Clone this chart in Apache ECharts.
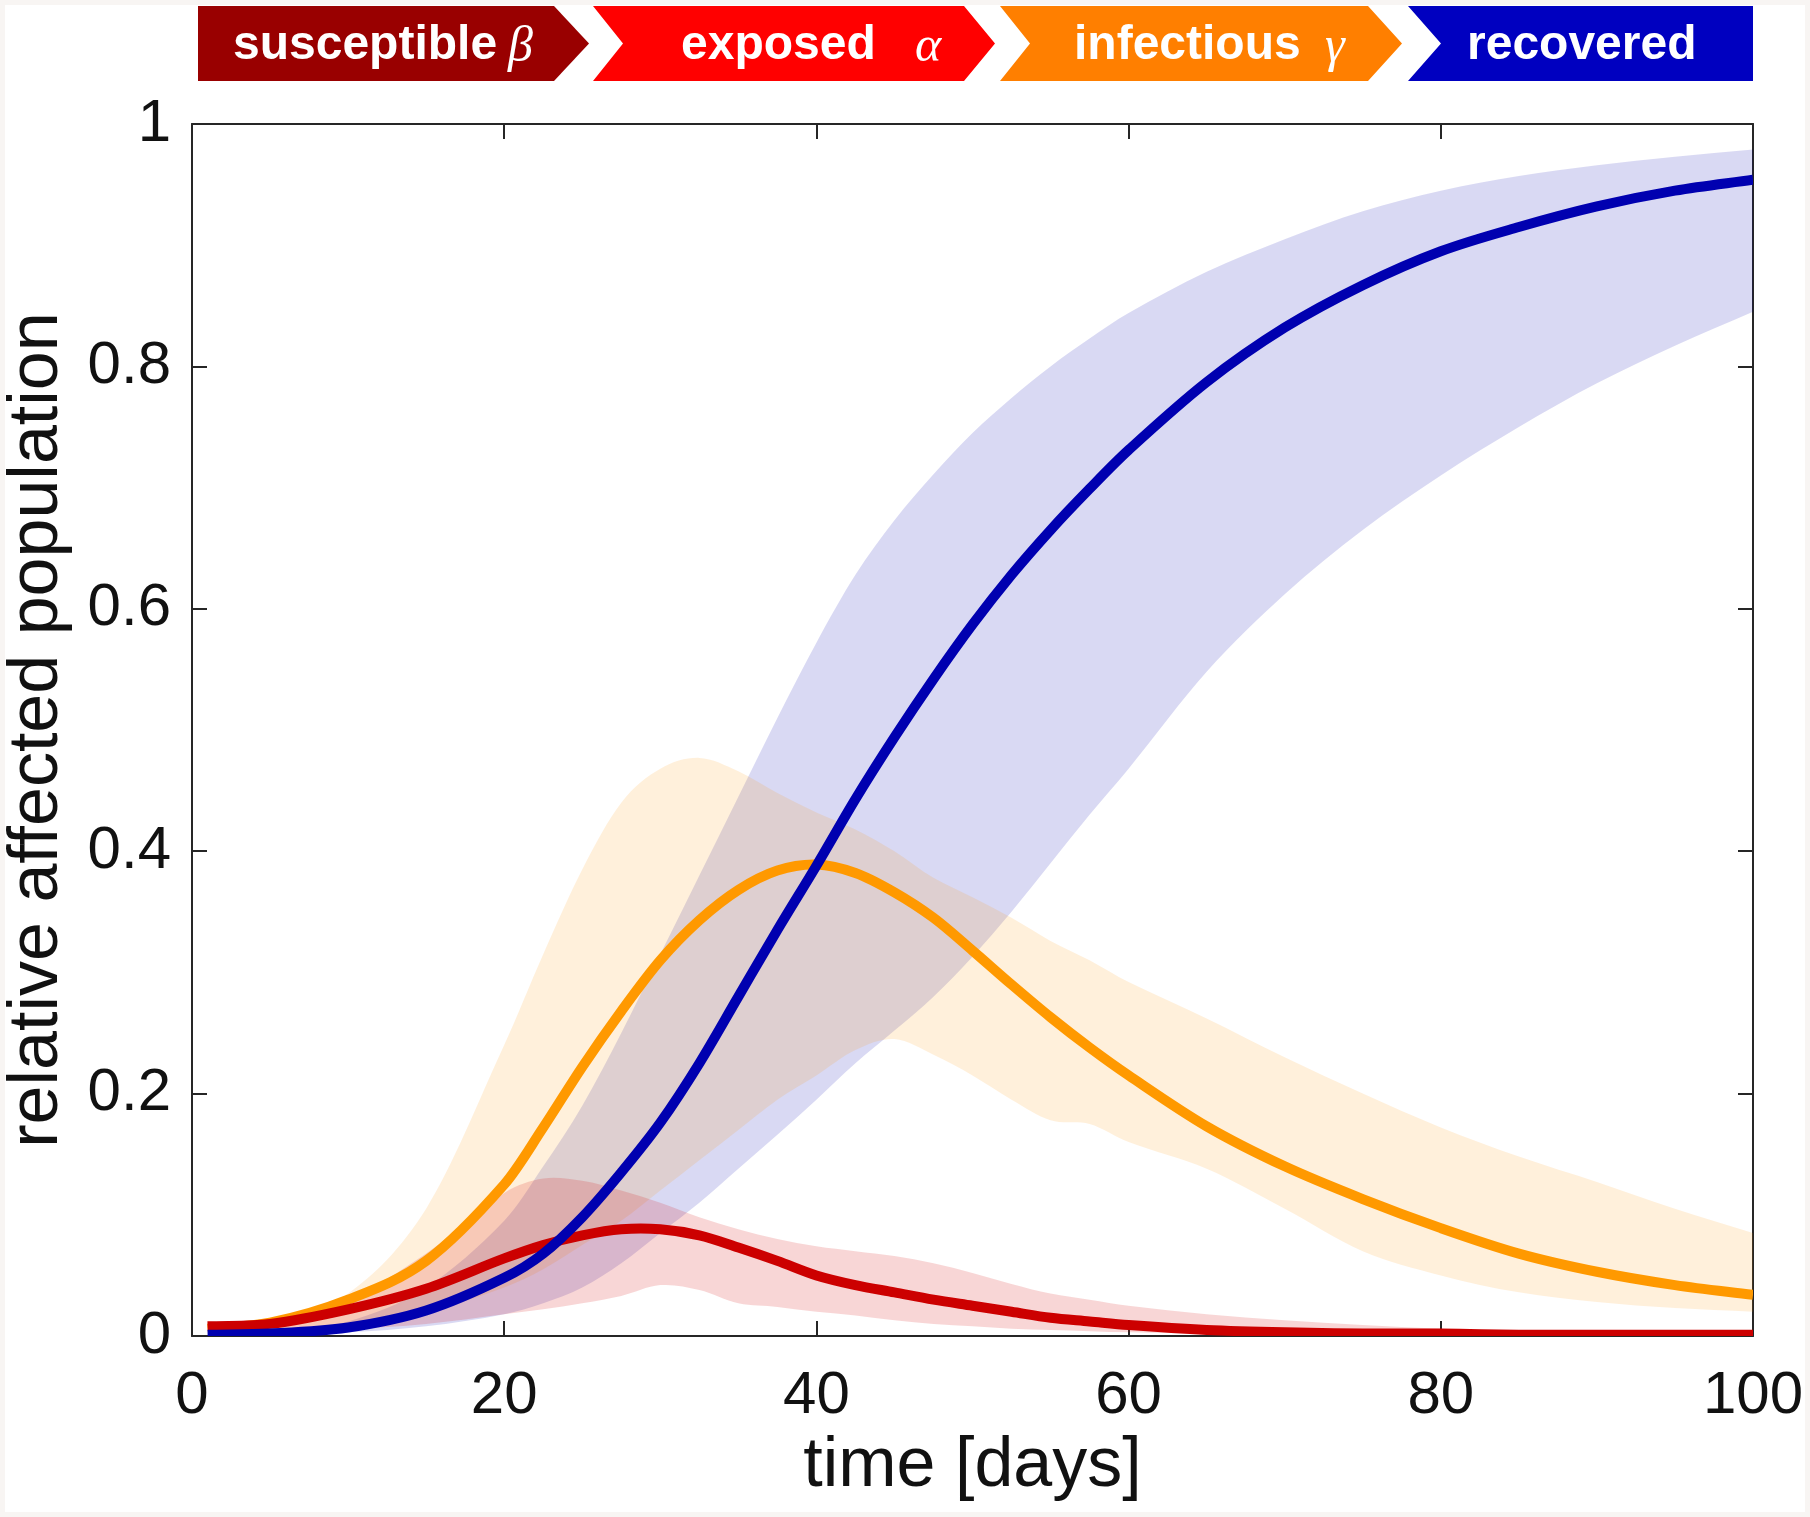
<!DOCTYPE html>
<html>
<head>
<meta charset="utf-8">
<script src="https://cdn.jsdelivr.net/npm/echarts@6/dist/echarts.min.js"></script>
<style>
html,body{margin:0;padding:0;background:#ffffff;}
#chart{width:1810px;height:1517px;}
</style>
</head>
<body>
<div id="chart"></div>
<script>
// ---- data ----
const days = [1, 5, 10, 15, 20, 22.5, 25, 27.5, 30, 32.5, 35, 37.5, 40, 42.5, 45, 47.5, 50, 52.5, 55, 57.5, 60, 65, 70, 75, 80, 85, 90, 95, 100];

const recoveredMean  = [0.001, 0.002, 0.007, 0.021, 0.048, 0.068, 0.098, 0.135, 0.176, 0.225, 0.28, 0.335, 0.388, 0.443, 0.494, 0.542, 0.587, 0.628, 0.665, 0.699, 0.731, 0.787, 0.832, 0.867, 0.895, 0.915, 0.932, 0.945, 0.954];
const recoveredUpper = [0.001, 0.003, 0.012, 0.04, 0.095, 0.14, 0.19, 0.25, 0.315, 0.38, 0.445, 0.51, 0.572, 0.628, 0.673, 0.711, 0.745, 0.774, 0.8, 0.823, 0.844, 0.878, 0.905, 0.928, 0.945, 0.957, 0.966, 0.973, 0.979];
const recoveredLower = [0.0, 0.001, 0.003, 0.008, 0.018, 0.027, 0.04, 0.06, 0.085, 0.11, 0.138, 0.166, 0.195, 0.225, 0.252, 0.28, 0.313, 0.35, 0.39, 0.43, 0.468, 0.548, 0.612, 0.665, 0.71, 0.75, 0.786, 0.817, 0.845];

const infectiousMean  = [0.006, 0.011, 0.03, 0.062, 0.125, 0.172, 0.222, 0.268, 0.31, 0.343, 0.368, 0.384, 0.389, 0.382, 0.366, 0.345, 0.318, 0.29, 0.263, 0.238, 0.215, 0.173, 0.14, 0.113, 0.089, 0.068, 0.053, 0.042, 0.034];
const infectiousUpper = [0.006, 0.012, 0.035, 0.105, 0.24, 0.315, 0.385, 0.44, 0.468, 0.477, 0.466, 0.448, 0.432, 0.418, 0.4, 0.378, 0.362, 0.345, 0.326, 0.31, 0.292, 0.262, 0.23, 0.2, 0.172, 0.148, 0.127, 0.105, 0.085];
const infectiousLower = [0.004, 0.006, 0.01, 0.02, 0.04, 0.055, 0.075, 0.095, 0.12, 0.145, 0.17, 0.195, 0.215, 0.236, 0.245, 0.232, 0.215, 0.195, 0.178, 0.175, 0.16, 0.138, 0.105, 0.07, 0.05, 0.036, 0.028, 0.023, 0.02];

const exposedMean  = [0.008, 0.01, 0.022, 0.039, 0.064, 0.075, 0.083, 0.088, 0.088, 0.083, 0.073, 0.062, 0.05, 0.042, 0.036, 0.03, 0.025, 0.02, 0.015, 0.012, 0.009, 0.005, 0.003, 0.002, 0.002, 0.001, 0.001, 0.001, 0.001];
const exposedUpper = [0.01, 0.012, 0.03, 0.068, 0.118, 0.13, 0.128, 0.12, 0.11, 0.098, 0.088, 0.08, 0.074, 0.07, 0.066, 0.06, 0.052, 0.043, 0.035, 0.03, 0.025, 0.018, 0.013, 0.009, 0.006, 0.004, 0.003, 0.002, 0.002];
const exposedLower = [0.006, 0.005, 0.006, 0.01, 0.018, 0.022, 0.027, 0.033, 0.042, 0.038, 0.027, 0.024, 0.02, 0.017, 0.013, 0.01, 0.008, 0.006, 0.005, 0.004, 0.003, 0.002, 0.001, 0.001, 0.001, 0.001, 0.0, 0.0, 0.0];

const xTicks = [0, 20, 40, 60, 80, 100];
const yTicks = [0, 0.2, 0.4, 0.6, 0.8, 1];

const legendItems = [
  {word: 'susceptible', greek: 'β', color: '#990000'},
  {word: 'exposed', greek: 'α', color: '#ff0000'},
  {word: 'infectious', greek: 'γ', color: '#ff7f00'},
  {word: 'recovered', greek: '', color: '#0000c0'}
];

// ---- helpers ----
const FONT = "'Liberation Sans', Arial, Helvetica, sans-serif";

// cubic Hermite path through pixel points (x strictly monotone)
function hermite(pts, first) {
  const n = pts.length;
  const slope = (i) => {
    const a = pts[Math.max(i - 1, 0)], b = pts[Math.min(i + 1, n - 1)];
    return (b[1] - a[1]) / (b[0] - a[0]);
  };
  const seg = [];
  seg.push([(first ? 'M' : 'L'), pts[0][0], pts[0][1]]);
  for (let i = 0; i < n - 1; i++) {
    const p1 = pts[i], p2 = pts[i + 1];
    const h = (p2[0] - p1[0]) / 3;
    const m1 = slope(i), m2 = slope(i + 1);
    seg.push(['C', p1[0] + h, p1[1] + m1 * h, p2[0] - h, p2[1] - m2 * h, p2[0], p2[1]]);
  }
  return seg;
}
function segToString(seg, flipX) {
  return seg.map(s => s[0] + s.slice(1).map((v, k) => (k % 2 === 0 && flipX ? -v : v).toFixed(2)).join(' ')).join(' ');
}

function band(lower, upper, fill) {
  return {
    type: 'custom', coordinateSystem: 'cartesian2d', silent: true, z: 1, clip: true,
    data: days.map((d, i) => [d, lower[i], upper[i]]),
    encode: {x: 0, y: [1, 2]},
    renderItem: function (params, api) {
      if (params.dataIndex !== 0) return null;
      const up = days.map((d, i) => api.coord([d, upper[i]]));
      const lo = days.map((d, i) => api.coord([d, lower[i]]));
      // lower edge walked right-to-left: mirror x so the helper sees increasing x
      const loRev = lo.slice().reverse().map(p => [-p[0], p[1]]);
      const path = segToString(hermite(up, true), false) + ' ' + segToString(hermite(loRev, false), true) + ' Z';
      return {type: 'path', shape: {pathData: path}, style: {fill: fill}};
    }
  };
}
function meanLine(values, color) {
  return {
    type: 'custom', coordinateSystem: 'cartesian2d', silent: true, z: 3, clip: true,
    data: days.map((d, i) => [d, values[i]]),
    encode: {x: 0, y: 1},
    renderItem: function (params, api) {
      if (params.dataIndex !== 0) return null;
      const pts = days.map((d, i) => api.coord([d, values[i]]));
      return {type: 'path', shape: {pathData: segToString(hermite(pts, true), false)},
              style: {fill: null, stroke: color, lineWidth: 10, lineCap: 'butt', lineJoin: 'round'}};
    }
  };
}

// ---- banner (decorative legend) ----
const yT = 6, yB = 81, yM = 43.5;
const banner = [
  {type: 'polygon', shape: {points: [[198,yT],[554,yT],[589,yM],[554,yB],[198,yB]]}, style: {fill: legendItems[0].color}},
  {type: 'polygon', shape: {points: [[593,yT],[964,yT],[995,yM],[964,yB],[593,yB],[623,yM]]}, style: {fill: legendItems[1].color}},
  {type: 'polygon', shape: {points: [[1000,yT],[1368,yT],[1402,yM],[1368,yB],[1000,yB],[1030,yM]]}, style: {fill: legendItems[2].color}},
  {type: 'polygon', shape: {points: [[1408,yT],[1753,yT],[1753,yB],[1408,yB],[1441,yM]]}, style: {fill: legendItems[3].color}}
];
const wordX = [233, 681, 1074, 1467];
const greekX = [508, 915, 1325, 0];
legendItems.forEach((it, i) => {
  banner.push({type: 'text', x: wordX[i], y: yM + 2, style: {text: it.word, fill: '#ffffff',
    font: "bold 48px " + FONT, textAlign: 'left', textVerticalAlign: 'middle'}});
  if (it.greek) banner.push({type: 'text', x: greekX[i], y: yM + 4, style: {text: it.greek, fill: '#ffffff',
    font: "italic 50px 'Liberation Serif', 'DejaVu Serif', serif", textAlign: 'left', textVerticalAlign: 'middle'}});
});
banner.push({type: 'rect', shape: {x: 0, y: 0, width: 1810, height: 1517},
  style: {fill: null, stroke: '#f8f5f3', lineWidth: 10}, z: 100});

// ---- axes ----
const axisLine = {show: true, onZero: false, lineStyle: {color: '#262626', width: 2}};
const tick = {show: true, inside: true, length: 15, lineStyle: {color: '#262626', width: 2}};
const labelStyle = {fontSize: 60, color: '#111111', fontFamily: FONT};

const chart = echarts.init(document.getElementById('chart'), null, {renderer: 'canvas'});
chart.setOption({
  backgroundColor: '#ffffff',
  animation: false,
  grid: {left: 192, right: 57, top: 124, bottom: 181, containLabel: false, outerBoundsMode: 'none'},
  xAxis: [
    {type: 'value', min: xTicks[0], max: xTicks[xTicks.length - 1], interval: 20, position: 'bottom',
     axisLine: axisLine, axisTick: tick, splitLine: {show: false},
     axisLabel: Object.assign({margin: 30}, labelStyle),
     name: 'time [days]', nameLocation: 'middle', nameGap: 96,
     nameTextStyle: {fontSize: 70, color: '#111111', fontFamily: FONT}},
    {type: 'value', min: xTicks[0], max: xTicks[xTicks.length - 1], interval: 20, position: 'top',
     axisLine: axisLine, axisTick: tick, splitLine: {show: false}, axisLabel: {show: false}}
  ],
  yAxis: [
    {type: 'value', min: yTicks[0], max: yTicks[yTicks.length - 1], interval: 0.2, position: 'left',
     axisLine: axisLine, axisTick: tick, splitLine: {show: false},
     axisLabel: Object.assign({margin: 21}, labelStyle),
     name: 'relative affected population', nameLocation: 'middle', nameGap: 119,
     nameTextStyle: {fontSize: 70, color: '#111111', fontFamily: FONT}},
    {type: 'value', min: yTicks[0], max: yTicks[yTicks.length - 1], interval: 0.2, position: 'right',
     axisLine: axisLine, axisTick: tick, splitLine: {show: false}, axisLabel: {show: false}}
  ],
  series: [
    band(recoveredLower, recoveredUpper, 'rgba(0,0,176,0.15)'),
    band(infectiousLower, infectiousUpper, 'rgba(255,150,0,0.14)'),
    band(exposedLower, exposedUpper, 'rgba(210,0,0,0.16)'),
    meanLine(infectiousMean, '#ff9900'),
    meanLine(exposedMean, '#cc0000'),
    meanLine(recoveredMean, '#0000b0')
  ],
  graphic: banner
});
</script>
</body>
</html>
